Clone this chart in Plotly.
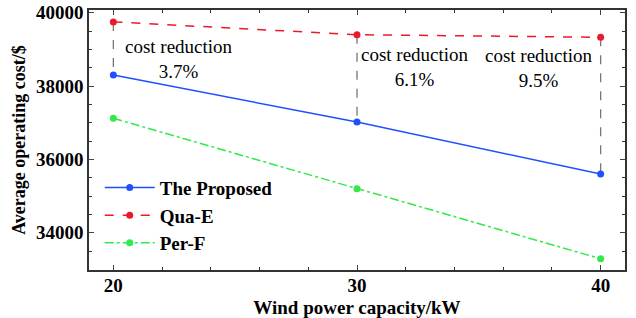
import plotly.graph_objects as go

capacity = [20, 30, 40]
proposed = [38300, 37020, 35600]
qua_e = [39750, 39400, 39330]
per_f = [37120, 35200, 33290]
reductions = ["3.7%", "6.1%", "9.5%"]
ann_x = [22.7, 32.38, 37.45]
ann_y = [38730, 38520, 38490]
x_ticks = [20, 30, 40]
y_ticks = [34000, 36000, 38000, 40000]
y_tick_labels = ["34000", "36000", "38000", "40000"]

FONT = "Liberation Serif"

fig = go.Figure()

# grey dashed connectors
for x, q, p in zip(capacity, qua_e, proposed):
    fig.add_trace(go.Scatter(x=[x, x], y=[q, p], mode="lines", showlegend=False,
                             line=dict(color="#777777", width=1.3, dash="dash"), hoverinfo="skip"))

fig.add_trace(go.Scatter(x=capacity, y=proposed, name="The Proposed", mode="lines+markers",
                         line=dict(color="#1F50FF", width=1.5), marker=dict(size=7, color="#1F50FF")))
fig.add_trace(go.Scatter(x=capacity, y=qua_e, name="Qua-E", mode="lines+markers",
                         line=dict(color="#EA1A2C", width=1.5, dash="dash"), marker=dict(size=7, color="#EA1A2C")))
fig.add_trace(go.Scatter(x=capacity, y=per_f, name="Per-F", mode="lines+markers",
                         line=dict(color="#33E84A", width=1.5, dash="dashdot"), marker=dict(size=7, color="#33E84A")))

for x, y, r in zip(ann_x, ann_y, reductions):
    fig.add_annotation(x=x, y=y, text="cost reduction<br>" + r, showarrow=False,
                       font=dict(family=FONT, size=19, color="black"), align="center")

fig.update_layout(
    width=636, height=318,
    margin=dict(l=89, r=11, t=10, b=48),
    plot_bgcolor="white", paper_bgcolor="white",
    font=dict(family=FONT, color="black"),
    legend=dict(x=0.02, y=0.39, xanchor="left", yanchor="top", itemwidth=50,
                font=dict(family=FONT, size=19, color="black", weight="bold"),
                bgcolor="rgba(0,0,0,0)", tracegroupgap=0),
    showlegend=True,
)

fig.update_xaxes(range=[19, 41], tickvals=x_ticks, ticks="inside", ticklen=5, tickwidth=1,
                 showline=True, linecolor="#333333", linewidth=1.5, mirror="allticks", showgrid=False,
                 zeroline=False, automargin=False, tickfont=dict(family=FONT, size=19, weight="bold"),
                 ticklabelstandoff=-3,
                 minor=dict(dtick=2, ticks="inside", ticklen=3, tickcolor="#333333"),
                 title=dict(text="Wind power capacity/kW", font=dict(family=FONT, size=19, weight="bold"), standoff=8))
fig.update_yaxes(range=[32983, 40074], tickvals=y_ticks, ticktext=y_tick_labels, ticks="inside", ticklen=5, tickwidth=1,
                 showline=True, linecolor="#333333", linewidth=1.5, mirror="allticks", showgrid=False,
                 zeroline=False, automargin=False, tickfont=dict(family=FONT, size=19, weight="bold"),
                 ticklabeloverflow="allow",
                 minor=dict(dtick=500, ticks="inside", ticklen=3, tickcolor="#333333"),
                 title=dict(text="Average operating cost/$", font=dict(family=FONT, size=18, weight="bold"), standoff=6))

fig.write_html("out.html", config={"displayModeBar": False},
               post_script="document.body.style.margin='0px';")
